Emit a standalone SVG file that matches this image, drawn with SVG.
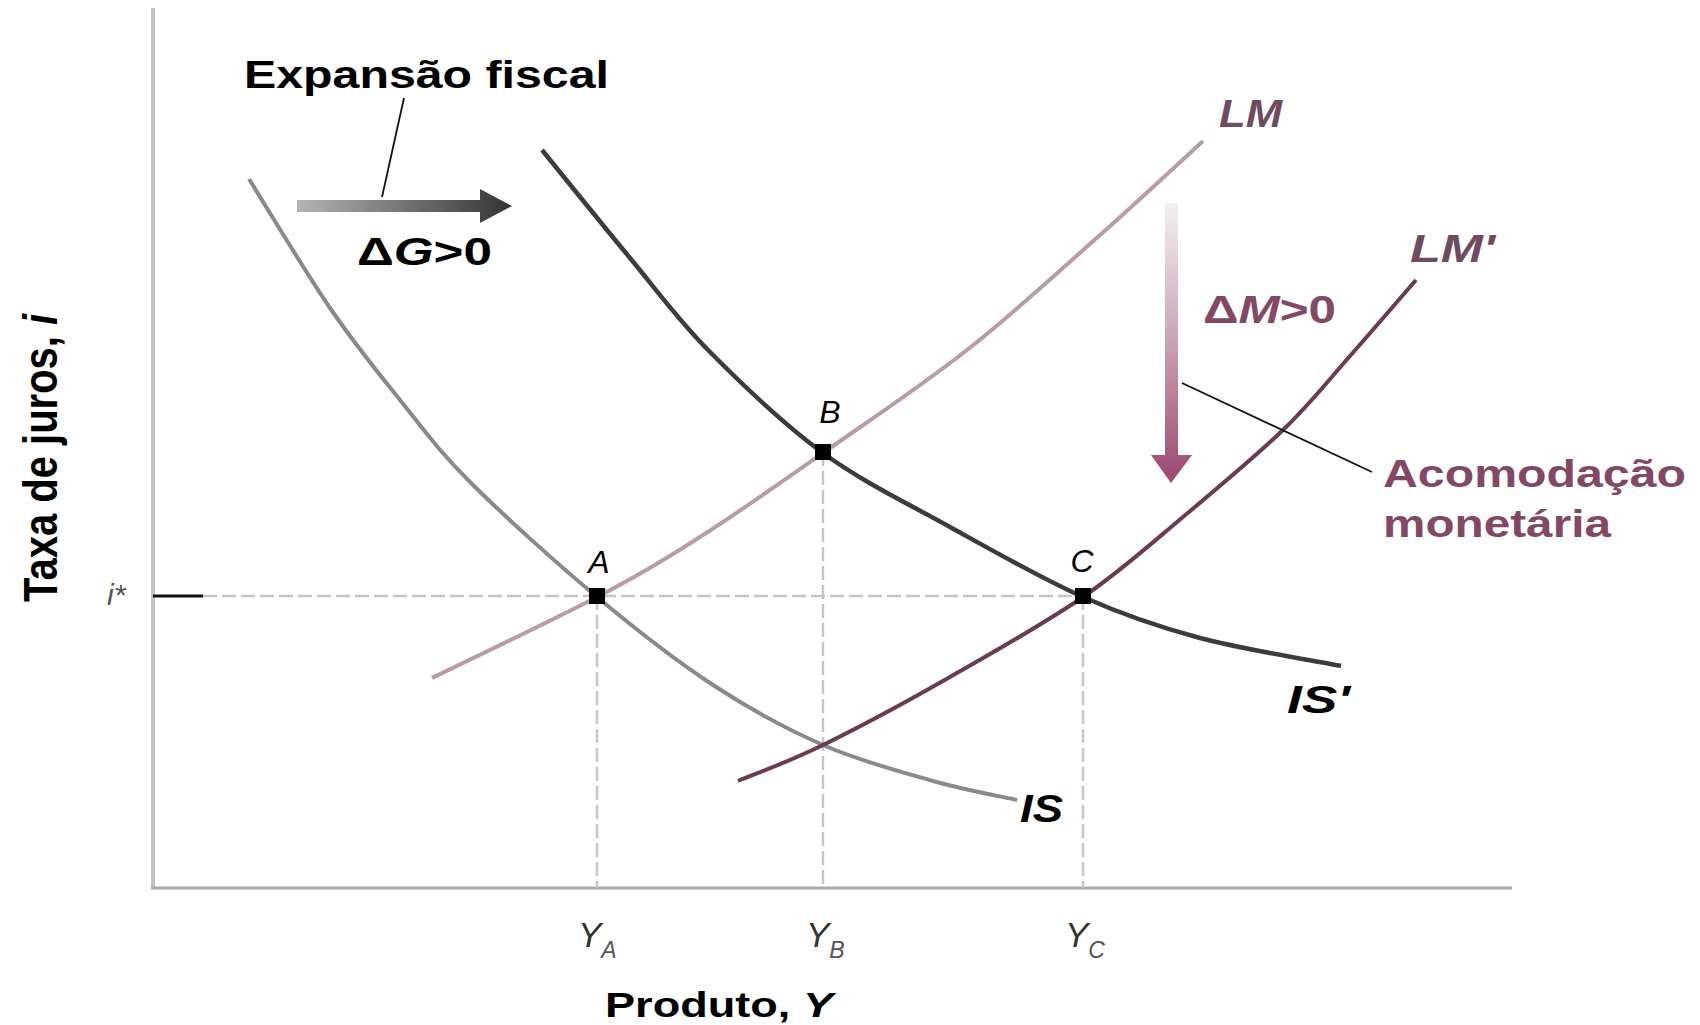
<svg xmlns="http://www.w3.org/2000/svg" width="1700" height="1025" viewBox="0 0 1700 1025">
<defs>
<style>
text{font-family:"Liberation Sans",Arial,sans-serif}
.b{font-weight:bold}
.it{font-style:italic}
.curve{fill:none;stroke-linecap:butt;stroke-linejoin:round}
.dash{stroke:#c6c6c6;stroke-width:2.5;stroke-dasharray:14 5;fill:none}
.pt{fill:#000}
.leader{stroke:#111;stroke-width:1.8;fill:none}
.mauve{fill:#834866}
.lmlbl{fill:#6f4a60}
</style>
<linearGradient id="gradG" gradientUnits="userSpaceOnUse" x1="297" y1="0" x2="512" y2="0">
<stop offset="0" stop-color="#b4b4b4"/>
<stop offset="1" stop-color="#333333"/>
</linearGradient>
<linearGradient id="gradM" gradientUnits="userSpaceOnUse" x1="0" y1="203" x2="0" y2="483">
<stop offset="0" stop-color="#f4f0f2"/>
<stop offset="0.5" stop-color="#c9a2b5"/>
<stop offset="1" stop-color="#9c4570"/>
</linearGradient>
</defs>
<rect width="1700" height="1025" fill="#fff"/>

<g id="axes">
<line x1="153" y1="8" x2="153" y2="888" stroke="#c4c4c4" stroke-width="4"/>
<line x1="151" y1="888" x2="1512" y2="888" stroke="#aaaaaa" stroke-width="3"/>
<line x1="153" y1="596" x2="203" y2="596" stroke="#111" stroke-width="3"/>
<text class="b" font-size="40" transform="translate(57,602) scale(1.2,1) rotate(-90)">Taxa de juros, <tspan class="it">i</tspan></text>
<text class="b" x="605" y="1017" font-size="35" textLength="228" lengthAdjust="spacingAndGlyphs">Produto, <tspan class="it">Y</tspan></text>
<text class="it" x="107" y="605" font-size="30" fill="#555">i*</text>
</g>

<g id="connectors">
<path class="dash" d="M203,596 H1083"/>
<path class="dash" d="M597,596 V888"/>
<path class="dash" d="M823,452 V888"/>
<path class="dash" d="M1083,596 V888"/>
</g>

<g id="curve-IS">
<path class="curve" stroke="#8a8a8a" stroke-width="4" d="M249,179 C262.5,200.5 304.8,271.2 330,308 C355.2,344.8 376.7,371 400,400 C423.3,429 437.2,449.2 470,482 C502.8,514.8 556.5,563.2 597,597 C637.5,630.8 675.3,660.3 713,685 C750.7,709.7 786.3,729 823,745 C859.7,761 900.7,771.8 933,781 C965.3,790.2 1003,796.8 1017,800"/>
<text class="b it" x="1020" y="822" font-size="38" textLength="43" lengthAdjust="spacingAndGlyphs">IS</text>
</g>

<g id="curve-LM">
<path class="curve" stroke="#b99ca8" stroke-width="4" d="M432,678 C459.5,664.5 552.3,620.5 597,597 C641.7,573.5 662.3,561 700,537 C737.7,513 778.5,484.2 823,453 C867.5,421.8 920.8,386.3 967,350 C1013.2,313.7 1060.7,269.8 1100,235 C1139.3,200.2 1185.8,156.7 1203,141"/>
<text class="b it lmlbl" x="1219" y="127" font-size="38" textLength="63" lengthAdjust="spacingAndGlyphs">LM</text>
</g>

<g id="curve-LMprime">
<path class="curve" stroke="#6a3b52" stroke-width="4" d="M738,781 C752.2,775 787.7,762.3 823,745 C858.3,727.7 906.7,701.7 950,677 C993.3,652.3 1044.2,623.7 1083,597 C1121.8,570.3 1149.7,544.8 1183,517 C1216.3,489.2 1255.2,456.8 1283,430 C1310.8,403.2 1327.8,381 1350,356 C1372.2,331 1405,292.7 1416,280"/>
<text class="b it lmlbl" x="1410" y="262" font-size="38" textLength="85" lengthAdjust="spacingAndGlyphs">LM'</text>
</g>

<g id="curve-ISprime">
<path class="curve" stroke="#3c3c3c" stroke-width="4.5" d="M542,150 C556.7,168 602,224.3 630,258 C658,291.7 677.8,319.5 710,352 C742.2,384.5 783,423.8 823,453 C863,482.2 906.7,503 950,527 C993.3,551 1041.3,578.5 1083,597 C1124.7,615.5 1157,626.5 1200,638 C1243,649.5 1317.5,661.3 1341,666"/>
<text class="b it" x="1287" y="713" font-size="38" textLength="63" lengthAdjust="spacingAndGlyphs">IS'</text>
</g>

<g id="point-A">
<rect class="pt" x="589" y="588" width="16" height="16"/>
<text class="it" x="599" y="573" font-size="32" text-anchor="middle">A</text>
<text class="it" x="578" y="947" font-size="35" fill="#333">Y<tspan font-size="23" dy="11" fill="#555">A</tspan></text>
</g>

<g id="point-B">
<rect class="pt" x="815" y="444" width="16" height="16"/>
<text class="it" x="830" y="423" font-size="32" text-anchor="middle">B</text>
<text class="it" x="806" y="947" font-size="35" fill="#333">Y<tspan font-size="23" dy="11" fill="#555">B</tspan></text>
</g>

<g id="point-C">
<rect class="pt" x="1075" y="588" width="16" height="16"/>
<text class="it" x="1082" y="572" font-size="32" text-anchor="middle">C</text>
<text class="it" x="1065" y="947" font-size="35" fill="#333">Y<tspan font-size="23" dy="11" fill="#555">C</tspan></text>
</g>

<g id="fiscal-expansion">
<text class="b" x="244" y="88" font-size="38" textLength="365" lengthAdjust="spacingAndGlyphs">Expansão fiscal</text>
<line class="leader" x1="404" y1="98" x2="382" y2="197"/>
<path fill="url(#gradG)" d="M297,200 H480 V189 L512,206 L480,223 V212 H297 Z"/>
<text class="b" x="357" y="265" font-size="38" textLength="135" lengthAdjust="spacingAndGlyphs">Δ<tspan class="it">G</tspan>&gt;0</text>
</g>

<g id="monetary-accommodation">
<path fill="url(#gradM)" d="M1165,203 V455 H1151 L1171,483 L1192,455 H1178 V203 Z"/>
<text class="b mauve" x="1203" y="323" font-size="38" textLength="133" lengthAdjust="spacingAndGlyphs">Δ<tspan class="it">M</tspan>&gt;0</text>
<line class="leader" x1="1182" y1="383" x2="1372" y2="472"/>
<text class="b mauve" x="1383" y="487" font-size="38" textLength="303" lengthAdjust="spacingAndGlyphs">Acomodação</text>
<text class="b mauve" x="1383" y="537" font-size="38" textLength="228" lengthAdjust="spacingAndGlyphs">monetária</text>
</g>
</svg>
